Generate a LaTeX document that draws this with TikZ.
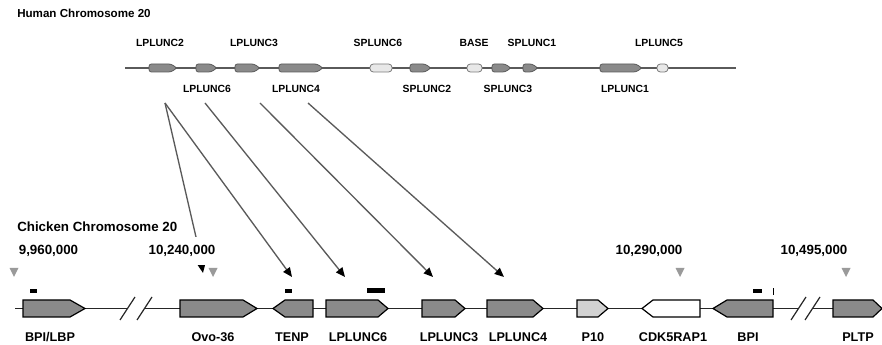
\documentclass[tikz,border=0pt]{standalone}
\usepackage{fontspec}
\setmainfont{Liberation Sans}
\usetikzlibrary{arrows.meta}
\definecolor{genegray}{HTML}{8A8A8A}
\definecolor{lightgene}{HTML}{E8E8E8}
\definecolor{linegray}{HTML}{5A5A5A}
\definecolor{trigray}{HTML}{9A9A9A}
\definecolor{dotgene}{HTML}{D2D2D2}
\newcommand\hgeneD[2]{\draw[hgenedark] (#1,64) -- ({#2-6},64) -- (#2,68) -- ({#2-6},72) -- (#1,72) -- cycle;}
\newcommand\hgeneL[2]{\draw[hgenelight] (#1,64) rectangle (#2,72);}
\newcommand\cgeneR[4]{\draw[#4] (#1,300) -- (#2,300) -- (#3,308.5) -- (#2,317) -- (#1,317) -- cycle;}
\newcommand\cgeneL[4]{\draw[#4] (#1,308.5) -- (#2,300) -- (#3,300) -- (#3,317) -- (#2,317) -- cycle;}
\begin{document}
\begin{tikzpicture}[x=0.75pt,y=-0.75pt,
  hlabel/.style={font=\fontsize{7.8}{9}\selectfont\bfseries, inner sep=0},
  clabel/.style={font=\fontsize{9.5}{11}\selectfont\bfseries, inner sep=0},
  numlabel/.style={font=\fontsize{10}{12}\selectfont\bfseries, inner sep=0},
  title/.style={anchor=west, inner sep=0},
  hgenedark/.style={fill=genegray, draw=linegray, line width=0.6pt, rounded corners=1.8pt},
  hgenelight/.style={fill=lightgene, draw=linegray!80, line width=0.6pt, rounded corners=2.5pt},
  cgene/.style={fill=genegray, draw=black, line width=0.9pt},
  cgenewhite/.style={fill=white, draw=black, line width=0.9pt},
  cgenedot/.style={fill=dotgene, draw=black, line width=0.9pt},
  mapline/.style={draw=linegray, line width=1pt, -{Triangle[length=7pt,width=6pt,black]}},
  blackbar/.style={fill=black},
  marker/.style={fill=trigray}
]
\useasboundingbox (0,0) rectangle (882,345);

% ---------- Human chromosome ----------
\node[title, font=\fontsize{8.7}{10}\selectfont\bfseries] (htitle) at (17,13) {Human Chromosome 20};
\draw[linegray, line width=1.6pt] (125,68) -- (736,68);
\hgeneD{149}{177}
\hgeneD{196}{217}
\hgeneD{235}{260}
\hgeneD{279}{323}
\hgeneL{370}{392}
\hgeneD{410}{431}
\hgeneL{467}{482}
\hgeneD{492}{511}
\hgeneD{523}{538}
\hgeneD{600}{642}
\hgeneL{657}{668}

\node[hlabel] (hLPLUNC2) at (160,43) {LPLUNC2};
\node[hlabel] (hLPLUNC3) at (254,43) {LPLUNC3};
\node[hlabel] (hSPLUNC6) at (378,43) {SPLUNC6};
\node[hlabel] (hBASE) at (474,43) {BASE};
\node[hlabel] (hSPLUNC1) at (532,43) {SPLUNC1};
\node[hlabel] (hLPLUNC5) at (659,43) {LPLUNC5};
\node[hlabel] (hLPLUNC6) at (207,89) {LPLUNC6};
\node[hlabel] (hLPLUNC4) at (296,89) {LPLUNC4};
\node[hlabel] (hSPLUNC2) at (427,89) {SPLUNC2};
\node[hlabel] (hSPLUNC3) at (508,89) {SPLUNC3};
\node[hlabel] (hLPLUNC1) at (625,89) {LPLUNC1};

% ---------- Mapping lines ----------
\coordinate (hub) at (165,103);
\coordinate (s3) at (205,103);
\coordinate (s4) at (260,103);
\coordinate (s5) at (308,103);
\coordinate (bend1) at (199,250);
\coordinate (t1) at (203,273);
\coordinate (t2) at (292,277);
\coordinate (t3) at (345,277);
\coordinate (t4) at (433,277);
\coordinate (t5) at (504,277);
\draw[mapline] (hub) -- (bend1) -- (t1);
\draw[mapline] (hub) -- (t2);
\draw[mapline] (s3) -- (t3);
\draw[mapline] (s4) -- (t4);
\draw[mapline] (s5) -- (t5);

% ---------- Chicken chromosome ----------
\node[title, font=\fontsize{10}{12}\selectfont\bfseries] (ctitle) at (17,227) {Chicken Chromosome 20};
\node[numlabel] (n1) at (48.5,251) {9,960,000};
\node[numlabel, fill=white, inner xsep=1pt, inner ysep=6pt] (n2) at (182,251) {10,240,000};
\node[numlabel] (n3) at (649,251) {10,290,000};
\node[numlabel] (n4) at (814,251) {10,495,000};

\fill[marker] (9.5,268) -- (18.5,268) -- (14,277) -- cycle;
\fill[marker] (208.5,268) -- (217.5,268) -- (213,277) -- cycle;
\fill[marker] (675.5,268) -- (684.5,268) -- (680,277) -- cycle;
\fill[marker] (841.5,268) -- (850.5,268) -- (846,277) -- cycle;

\draw[black!85, line width=0.9pt] (15,308.5) -- (882,308.5);
% breaks
\fill[white] (127,300) rectangle (145,317);
\draw[black!85, line width=0.9pt] (120,320) -- (135,297);
\draw[black!85, line width=0.9pt] (137,320) -- (152,297);
\fill[white] (798,300) rectangle (812,317);
\draw[black!85, line width=0.9pt] (791,320) -- (806,297);
\draw[black!85, line width=0.9pt] (805,320) -- (820,297);

\cgeneR{23}{70}{85}{cgene}
\cgeneR{180}{243}{257}{cgene}
\cgeneL{273}{285}{313}{cgene}
\cgeneR{326}{378}{388}{cgene}
\cgeneR{422}{455}{465}{cgene}
\cgeneR{487}{533}{543}{cgene}
\cgeneR{577}{598}{608}{cgenedot}
\cgeneL{642}{653}{700}{cgenewhite}
\cgeneL{713}{727}{773}{cgene}
\cgeneR{833}{873}{882}{cgene}

% small bars
\fill[blackbar] (30,289) rectangle (37,293);
\fill[blackbar] (285,289) rectangle (292,293);
\fill[blackbar] (367,288) rectangle (385,293);
\fill[blackbar] (753,289) rectangle (762,293);
\fill[blackbar] (772.5,288) rectangle (773.5,295);

\node[clabel] (cBPILBP) at (50,337) {BPI/LBP};
\node[clabel] (cOvo) at (213,337) {Ovo-36};
\node[clabel] (cTENP) at (292,337) {TENP};
\node[clabel] (cLPLUNC6) at (358,337) {LPLUNC6};
\node[clabel] (cLPLUNC3) at (449,337) {LPLUNC3};
\node[clabel] (cLPLUNC4) at (518,337) {LPLUNC4};
\node[clabel] (cP10) at (593,337) {P10};
\node[clabel] (cCDK) at (673,337) {CDK5RAP1};
\node[clabel] (cBPI) at (748,337) {BPI};
\node[clabel] (cPLTP) at (858,337) {PLTP};
\end{tikzpicture}
\end{document}
